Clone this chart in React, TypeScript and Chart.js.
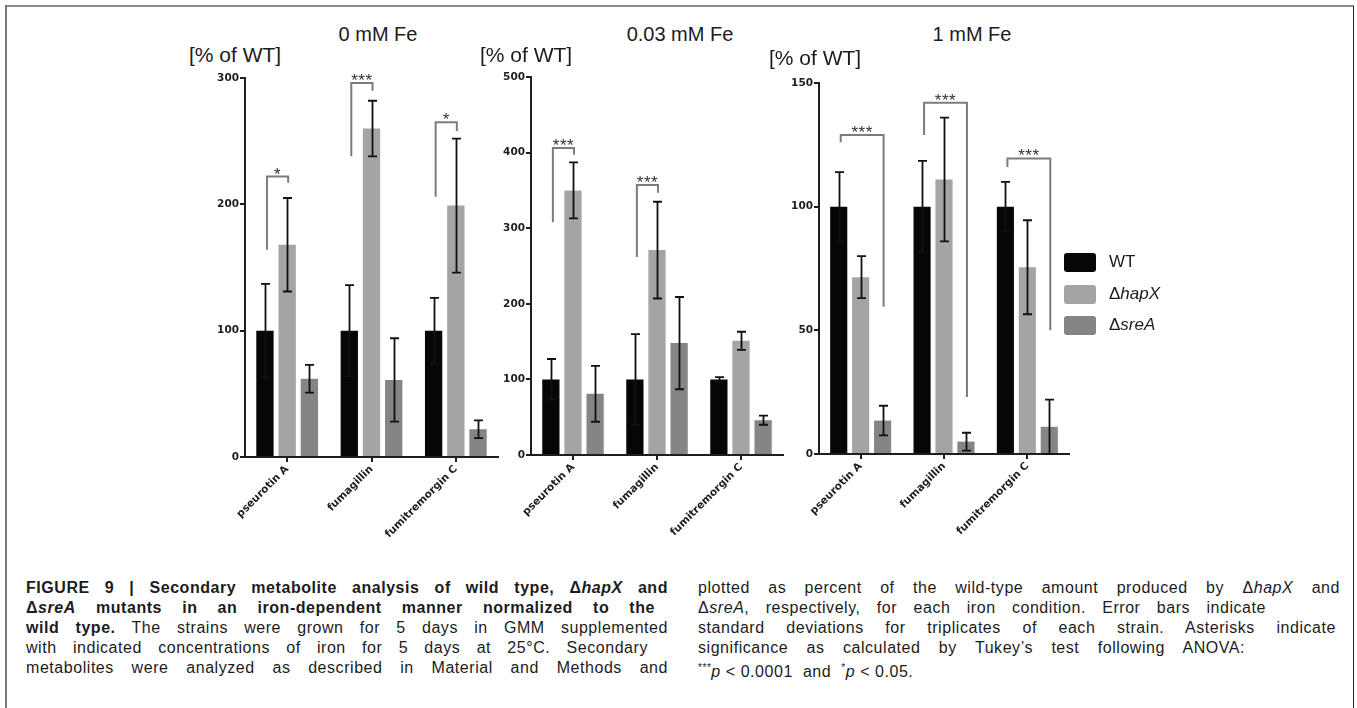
import React, { useEffect, useRef } from "react";
import { Chart, registerables } from "chart.js";

Chart.register(...registerables);

// ---------- data ----------
const categories = ["pseurotin A", "fumagillin", "fumitremorgin C"];
const seriesNames = ["WT", "ΔhapX", "ΔsreA"];
const panelTitles = ["0 mM Fe", "0.03 mM Fe", "1 mM Fe"];
const yAxisTitle = "[% of WT]";

// 0 mM Fe
const fe0_WT = [100, 100, 100];
const fe0_WT_sd = [37, 36, 26];
const fe0_hapX = [168, 260, 199];
const fe0_hapX_sd = [37, 22, 53];
const fe0_sreA = [62, 61, 22];
const fe0_sreA_sd = [11, 33, 7];
const fe0_yTicks = [0, 100, 200, 300];
// [category, from series, to series, left leg bottom, bracket top, right leg bottom, label]
const fe0_brackets = [
  [0, 0, 1, 164, 222, 217, "*"],
  [1, 0, 1, 238, 296, 290, "***"],
  [2, 0, 1, 206, 265, 258, "*"],
];

// 0.03 mM Fe
const fe003_WT = [100, 100, 100];
const fe003_WT_sd = [27, 60, 3];
const fe003_hapX = [350, 271, 151];
const fe003_hapX_sd = [37, 64, 12];
const fe003_sreA = [81, 148, 46];
const fe003_sreA_sd = [37, 61, 6];
const fe003_yTicks = [0, 100, 200, 300, 400, 500];
const fe003_brackets = [
  [0, 0, 1, 308, 406, 397, "***"],
  [1, 0, 1, 262, 357, 347, "***"],
];

// 1 mM Fe
const fe1_WT = [100, 100, 100];
const fe1_WT_sd = [14, 18.5, 10];
const fe1_hapX = [71.5, 111, 75.5];
const fe1_hapX_sd = [8.5, 25, 19];
const fe1_sreA = [13.5, 5, 11];
const fe1_sreA_sd = [6, 3.6, 11];
const fe1_yTicks = [0, 50, 100, 150];
const fe1_brackets = [
  [0, 0, 2, 126, 129, 59.5, "***"],
  [1, 0, 2, 129, 142, 23, "***"],
  [2, 0, 2, 116, 119.5, 50, "***"],
];

// ---------- styles ----------
const seriesColors = ["#060606", "#a4a4a4", "#858585"];
const tickFont = { family: "'DejaVu Sans', sans-serif", size: 10.5, weight: "bold" as const };
const AXIS = "#1e1e1e";

const panels = [
  { values: [fe0_WT, fe0_hapX, fe0_sreA], sds: [fe0_WT_sd, fe0_hapX_sd, fe0_sreA_sd], ticks: fe0_yTicks, brackets: fe0_brackets,
    area: { l: 245, r: 498, t: 78, b: 457 }, titleX: 378, axisTitleX: 189, axisTitleY: 55 },
  { values: [fe003_WT, fe003_hapX, fe003_sreA], sds: [fe003_WT_sd, fe003_hapX_sd, fe003_sreA_sd], ticks: fe003_yTicks, brackets: fe003_brackets,
    area: { l: 531, r: 783, t: 77, b: 455 }, titleX: 680, axisTitleX: 480, axisTitleY: 55 },
  { values: [fe1_WT, fe1_hapX, fe1_sreA], sds: [fe1_WT_sd, fe1_hapX_sd, fe1_sreA_sd], ticks: fe1_yTicks, brackets: fe1_brackets,
    area: { l: 819, r: 1069, t: 83, b: 454 }, titleX: 972, axisTitleX: 769, axisTitleY: 58 },
];

const Y_AXIS_W = 55;
const PAD_TOP = 14;
const PAD_RIGHT = 14;
const CANVAS_BOTTOM = 572;

const overlayPlugin = {
  id: "overlay",
  afterDatasetsDraw(chart: any, _args: any, opts: any) {
    const { ctx } = chart;
    const y = chart.scales.y;
    const sds: number[][] = opts.sds;
    ctx.save();
    // error bars
    ctx.strokeStyle = "#111";
    ctx.lineWidth = 1.8;
    chart.data.datasets.forEach((ds: any, i: number) => {
      const meta = chart.getDatasetMeta(i);
      meta.data.forEach((bar: any, j: number) => {
        const v = ds.data[j];
        const e = sds[i][j];
        const x = Math.round(bar.x) + 0.5;
        const yt = y.getPixelForValue(v + e);
        const yb = y.getPixelForValue(v - e);
        ctx.beginPath();
        ctx.moveTo(x, yt);
        ctx.lineTo(x, yb);
        ctx.moveTo(x - 4.5, yt);
        ctx.lineTo(x + 4.5, yt);
        ctx.moveTo(x - 4.5, yb);
        ctx.lineTo(x + 4.5, yb);
        ctx.stroke();
      });
    });
    // significance brackets
    const brackets: any[] = opts.brackets;
    brackets.forEach((b) => {
      const [cat, from, to, lowL, top, lowR, label] = b;
      const x1 = chart.getDatasetMeta(from).data[cat].x + 2;
      const x2 = chart.getDatasetMeta(to).data[cat].x + 1;
      const yTop = y.getPixelForValue(top);
      ctx.strokeStyle = "#7c7c7c";
      ctx.lineWidth = 2;
      ctx.beginPath();
      ctx.moveTo(x1, y.getPixelForValue(lowL));
      ctx.lineTo(x1, yTop);
      ctx.lineTo(x2, yTop);
      ctx.lineTo(x2, y.getPixelForValue(lowR));
      ctx.stroke();
      ctx.fillStyle = "#333";
      ctx.font = "17px 'Liberation Sans', Arial, sans-serif";
      ctx.textAlign = "center";
      ctx.textBaseline = "alphabetic";
      try { (ctx as any).letterSpacing = "0.5px"; } catch (e) {}
      ctx.fillText(label, (x1 + x2) / 2, yTop + 3);
    });
    ctx.restore();
  },
};

function Panel({ idx }: { idx: number }) {
  const ref = useRef<HTMLCanvasElement>(null);
  const p = panels[idx];
  const left = p.area.l - Y_AXIS_W;
  const top = p.area.t - PAD_TOP;
  const width = p.area.r + PAD_RIGHT - left;
  const height = CANVAS_BOTTOM - top;
  const xAxisH = CANVAS_BOTTOM - p.area.b;

  useEffect(() => {
    const chart = new Chart(ref.current as HTMLCanvasElement, {
      type: "bar",
      data: {
        labels: categories,
        datasets: p.values.map((vals, i) => ({
          label: seriesNames[i],
          data: vals,
          backgroundColor: seriesColors[i],
          borderWidth: 0,
          categoryPercentage: 0.79,
          barPercentage: 0.78,
        })),
      },
      options: {
        responsive: false,
        animation: false,
        events: [],
        layout: { padding: { top: PAD_TOP, right: PAD_RIGHT, left: 0, bottom: 0 } },
        plugins: {
          legend: { display: false },
          tooltip: { enabled: false },
          title: { display: false },
          overlay: { sds: p.sds, brackets: p.brackets },
        } as any,
        scales: {
          x: {
            grid: { offset: false, drawOnChartArea: false, drawTicks: true, tickLength: 5, color: AXIS, lineWidth: 2 },
            border: { display: true, color: AXIS, width: 2 },
            ticks: { autoSkip: false, minRotation: 45, maxRotation: 45, font: tickFont, color: AXIS, padding: 1 },
            afterFit: (s: any) => { s.height = xAxisH; s.paddingLeft = 0; s.paddingRight = 0; },
          },
          y: {
            min: p.ticks[0],
            max: p.ticks[p.ticks.length - 1],
            afterBuildTicks: (s: any) => { s.ticks = p.ticks.map((v) => ({ value: v })); },
            grid: { drawOnChartArea: false, drawTicks: true, tickLength: 5, color: AXIS, lineWidth: 2 },
            border: { display: true, color: AXIS, width: 2 },
            ticks: { font: tickFont, color: AXIS, padding: 1 },
            afterFit: (s: any) => { s.width = Y_AXIS_W; s.paddingTop = 0; s.paddingBottom = 0; },
          },
        },
      },
      plugins: [overlayPlugin],
    } as any);
    return () => chart.destroy();
  }, []);

  return (
    <canvas
      ref={ref}
      width={width}
      height={height}
      style={{ position: "absolute", left, top, width, height }}
    />
  );
}

function Delta({ name }: { name: string }) {
  if (name.startsWith("Δ")) {
    return (
      <span>
        <span style={{ fontStyle: "normal" }}>Δ</span>
        <i>{name.slice(1)}</i>
      </span>
    );
  }
  return <span>{name}</span>;
}

const captionFont = "'Liberation Sans', Arial, sans-serif";

function Line({ x, w, row, children, justify = true }: any) {
  return (
    <div
      style={{
        position: "absolute",
        left: x,
        top: 578 + row * 20,
        width: w,
        height: 20,
        lineHeight: "20px",
        fontFamily: captionFont,
        fontSize: 16,
        letterSpacing: "0.55px",
        color: "#1c1c1c",
        textAlign: justify ? "justify" : "left",
        textAlignLast: justify ? "justify" : "left",
        whiteSpace: "normal",
      } as any}
    >
      {children}
    </div>
  );
}

export default function App() {
  const titleStyle: any = {
    position: "absolute",
    fontFamily: "'Liberation Sans', Arial, sans-serif",
    fontSize: 20,
    color: "#1c1c1c",
    lineHeight: "24px",
    whiteSpace: "nowrap",
  };
  return (
    <div style={{ position: "absolute", left: 0, top: 0, width: 1357, height: 708, overflow: "hidden", background: "#fff" }}>
      {/* frame */}
      <div style={{ position: "absolute", left: 5, top: 5, width: 1349, height: 2, background: "#8a8a8a" }} />
      <div style={{ position: "absolute", left: 5, top: 5, width: 2, height: 703, background: "#7a7a7a" }} />
      <div style={{ position: "absolute", left: 1353, top: 6, width: 1, height: 702, background: "#222" }} />

      {panels.map((p, i) => (
        <React.Fragment key={i}>
          <div style={{ ...titleStyle, left: p.titleX - 100, width: 200, textAlign: "center", top: 34 - 12 }}>{panelTitles[i]}</div>
          <div style={{ ...titleStyle, fontSize: 21, left: p.axisTitleX, top: p.axisTitleY - 12 }}>{yAxisTitle}</div>
          <Panel idx={i} />
        </React.Fragment>
      ))}

      {/* legend */}
      {seriesNames.map((n, i) => (
        <React.Fragment key={n}>
          <div style={{ position: "absolute", left: 1064, top: 253 + i * 31.5, width: 32, height: 19, borderRadius: 3, background: seriesColors[i] }} />
          <div style={{ ...titleStyle, fontSize: 17, left: 1109, top: 253 + i * 31.5 - 2, lineHeight: "22px" }}>
            <Delta name={n} />
          </div>
        </React.Fragment>
      ))}

      {/* caption */}
      <Line x={26} w={642} row={0}>
        <b>FIGURE 9 | Secondary metabolite analysis of wild type, Δ<i>hapX</i> and</b>
      </Line>
      <Line x={26} w={629} row={1}>
        <b>Δ<i>sreA</i> mutants in an iron-dependent manner normalized to the</b>
      </Line>
      <Line x={26} w={642} row={2}>
        <b>wild type.</b> The strains were grown for 5 days in GMM supplemented
      </Line>
      <Line x={26} w={622} row={3}>
        with indicated concentrations of iron for 5 days at 25°C. Secondary
      </Line>
      <Line x={26} w={642} row={4}>
        metabolites were analyzed as described in Material and Methods and
      </Line>

      <Line x={698} w={642} row={0}>
        plotted as percent of the wild-type amount produced by Δ<i>hapX</i> and
      </Line>
      <Line x={698} w={568} row={1}>
        Δ<i>sreA</i>, respectively, for each iron condition. Error bars indicate
      </Line>
      <Line x={698} w={638} row={2}>
        standard deviations for triplicates of each strain. Asterisks indicate
      </Line>
      <Line x={698} w={547} row={3}>
        significance as calculated by Tukey’s test following ANOVA:
      </Line>
      <Line x={698} w={400} row={4} justify={false}>
        <sup style={{ fontSize: 10 }}>***</sup><i>p</i> &lt; 0.0001&nbsp;&nbsp;and&nbsp;&nbsp;<sup style={{ fontSize: 10 }}>*</sup><i>p</i> &lt; 0.05.
      </Line>
    </div>
  );
}
